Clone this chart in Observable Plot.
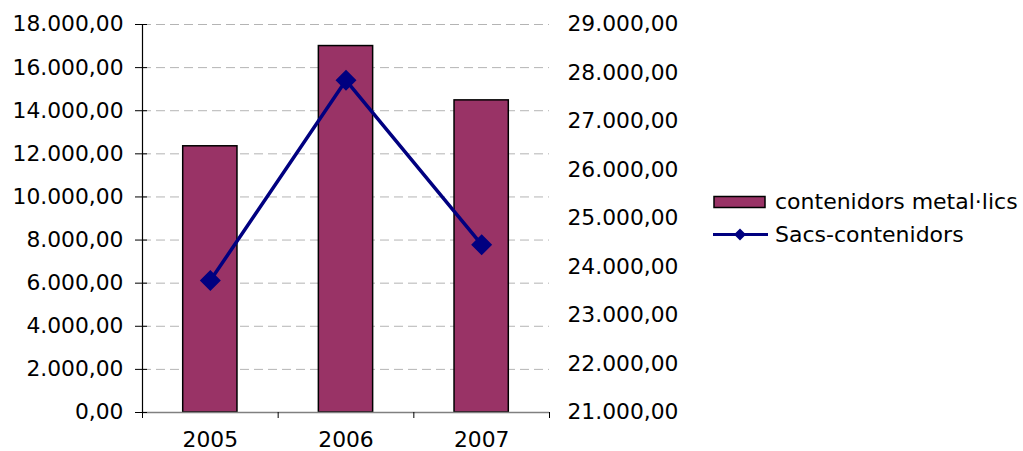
<!DOCTYPE html>
<html>
<head>
<meta charset="utf-8">
<script src="https://cdn.jsdelivr.net/npm/d3@7"></script>
<script src="https://cdn.jsdelivr.net/npm/@observablehq/plot@0.6"></script>
<style>
  html, body { margin: 0; padding: 0; background: white; }
  #wrap { position: relative; width: 1023px; height: 451px; font-family: Verdana, "DejaVu Sans", sans-serif; }
  #legend { position: absolute; left: 713px; top: 185px; font-size: 22px; color: black; }
  .row { display: flex; align-items: center; height: 33px; white-space: nowrap; }
  .row svg { flex: none; }
</style>
</head>
<body>
<div id="wrap"></div>
<script>
// ---- data ----
const years = [2005, 2006, 2007];
const metalValues = [12350, 17000, 14480];   // contenidors metal·lics (left axis)
const sacsValues = [23720, 27850, 24460];    // Sacs-contenidors (right axis)
const leftTicks = [0, 2000, 4000, 6000, 8000, 10000, 12000, 14000, 16000, 18000];
const rightTicks = [21000, 22000, 23000, 24000, 25000, 26000, 27000, 28000, 29000];
const seriesNames = ["contenidors metal·lics", "Sacs-contenidors"];

const barColor = "#993366";
const lineColor = "#000080";

const locale = d3.formatLocale({decimal: ",", thousands: ".", grouping: [3], currency: ["", ""]});
const fmt = locale.format(",.2f");

const leftMax = leftTicks[leftTicks.length - 1];
const rMin = rightTicks[0], rMax = rightTicks[rightTicks.length - 1];
const toLeft = v => (v - rMin) * leftMax / (rMax - rMin);
const fromLeft = v => rMin + v * (rMax - rMin) / leftMax;

const bars = years.map((y, i) => ({year: y, value: metalValues[i]}));
const pts = years.map((y, i) => ({year: y, value: sacsValues[i]}));
const xLo = years[0] - 0.5, xHi = years[years.length - 1] + 0.5;
const bounds = years.map(y => y - 0.5).concat([xHi]);

const chart = Plot.plot({
  width: 1023,
  height: 451,
  marginLeft: 142,
  marginRight: 474,
  marginTop: 24,
  marginBottom: 39,
  style: {fontSize: "21.8px", fontFamily: 'Verdana, "DejaVu Sans", sans-serif', color: "black", background: "white", overflow: "visible"},
  x: {type: "linear", domain: [xLo, xHi], label: null},
  y: {domain: [0, leftMax], label: null},
  marks: [
    Plot.gridY(leftTicks.slice(1), {stroke: "#b4b4b4", strokeOpacity: 1, strokeDasharray: "9,5"}),
    Plot.rectY(bars, {x1: d => d.year - 0.2, x2: d => d.year + 0.2, y: "value", fill: barColor, stroke: "black", strokeWidth: 1.5}),
    Plot.ruleY([0], {stroke: "#808080", strokeWidth: 1.5}),
    Plot.ruleX([xLo], {stroke: "black", strokeWidth: 1.2}),
    // left axis ticks (cross) and labels
    Plot.axisY(leftTicks, {anchor: "left", label: null, tickSize: 12, dx: 5, tickFormat: () => "", stroke: "black"}),
    Plot.axisY(leftTicks, {anchor: "left", label: null, tickSize: 0, tickPadding: 19, tickFormat: fmt, fill: "black"}),
    // right axis labels
    Plot.axisY(rightTicks.map(toLeft), {anchor: "right", label: null, tickSize: 0, tickPadding: 18, tickFormat: d => fmt(Math.round(fromLeft(d))), fill: "black"}),
    // bottom axis ticks at category boundaries and labels at centres
    Plot.axisX(bounds, {anchor: "bottom", label: null, tickSize: 6, tickFormat: () => "", stroke: "black"}),
    Plot.axisX(years, {anchor: "bottom", label: null, tickSize: 0, tickPadding: 19, tickFormat: d => String(d), fill: "black"}),
    // line series
    Plot.line(pts, {x: "year", y: d => toLeft(d.value), stroke: lineColor, strokeWidth: 3.5}),
    Plot.dot(pts, {x: "year", y: d => toLeft(d.value), symbol: "diamond2", r: 8.5, fill: lineColor, stroke: lineColor})
  ]
});

const wrap = document.getElementById("wrap");
wrap.appendChild(chart);

const legend = document.createElement("div");
legend.id = "legend";
legend.innerHTML = `
  <div class="row">
    <svg width="62" height="33"><rect x="1" y="11.5" width="51" height="11" fill="${barColor}" stroke="black" stroke-width="1.5"></rect></svg>
    <span>${seriesNames[0]}</span>
  </div>
  <div class="row">
    <svg width="62" height="33"><line x1="0" x2="55" y1="16.5" y2="16.5" stroke="${lineColor}" stroke-width="3"></line>
      <path d="M27,10.5 L33,16.5 L27,22.5 L21,16.5 Z" fill="${lineColor}"></path></svg>
    <span>${seriesNames[1]}</span>
  </div>`;
wrap.appendChild(legend);
</script>
</body>
</html>
